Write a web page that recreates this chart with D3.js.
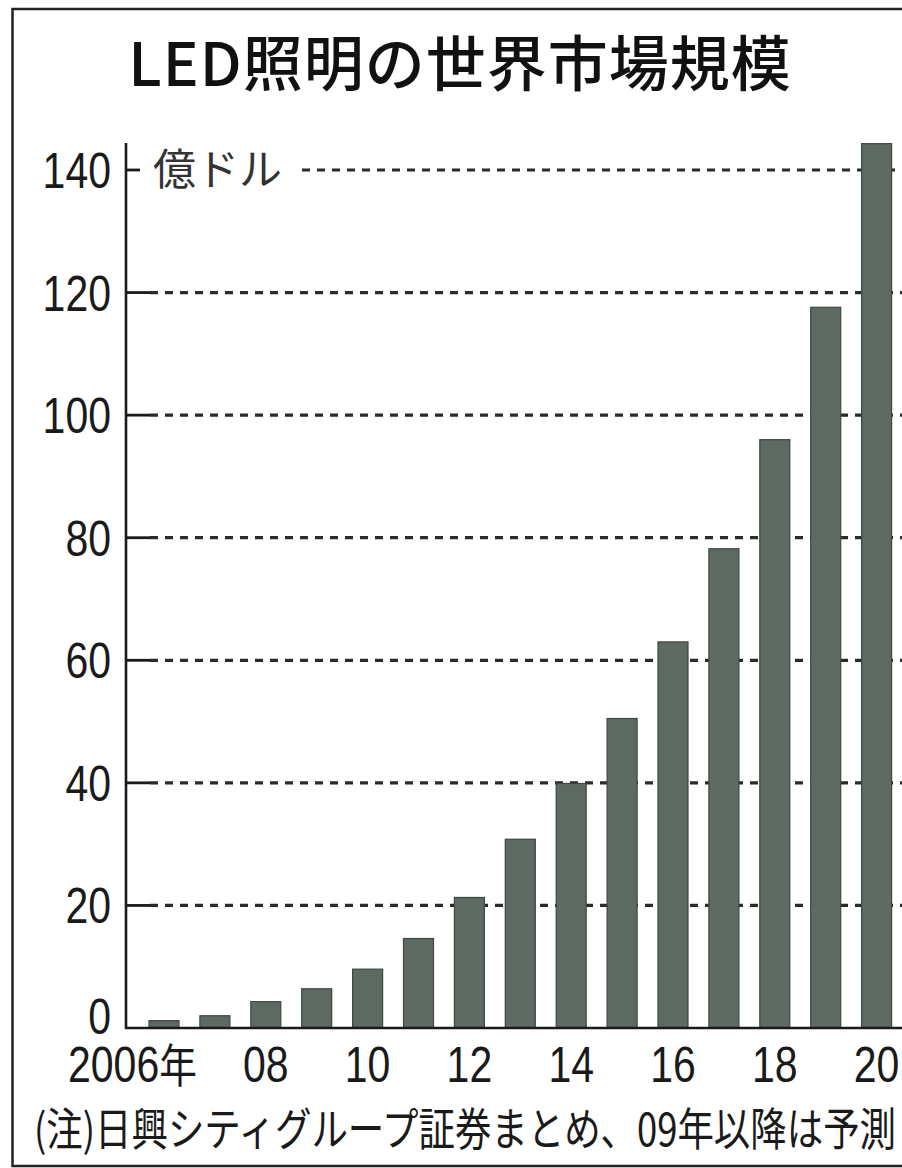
<!DOCTYPE html>
<html>
<head>
<meta charset="utf-8">
<script src="https://cdn.jsdelivr.net/npm/d3@7"></script>
<style>
  html, body { margin: 0; padding: 0; background: #fff; }
  svg { display: block; }
</style>
</head>
<body>
<script>
/* Data */

var years  = [2006, 2007, 2008, 2009, 2010, 2011, 2012, 2013, 2014, 2015, 2016, 2017, 2018, 2019, 2020];
var values = [1.2, 2.0, 4.3, 6.4, 9.6, 14.6, 21.3, 30.8, 39.9, 50.5, 63.0, 78.2, 96.0, 117.6, 144.3];
var yTicks = [0, 20, 40, 60, 80, 100, 120, 140];
var xLabelYears = [2006, 2008, 2010, 2012, 2014, 2016, 2018, 2020];

var TITLE = "LED照明の世界市場規模";
var UNIT  = "億ドル";
var NOTE  = "(注)日興シティグループ証券まとめ、09年以降は予測";

/* Measures */

var W = 902,
    H = 1168;

var AXIS_X   = 126,
    ZERO_Y   = 1028,
    TOP_Y    = 170,
    BAR_W    = 30,
    FIRST_BAR_X = 149,
    BAR_STEP = 50.9,
    NARROW   = 0.82;   // horizontal squeeze of the number font

var NUM_FONT = "'Liberation Sans', Arial, sans-serif",
    CJK_FONT = "'Noto Sans CJK JP', 'Noto Sans', sans-serif";

var BAR_COLOR = "#5c6a62",
    INK       = "#1a1a1a";

var svg = d3.select("body").append("svg")
    .attr("width", W)
    .attr("height", H);

var y = d3.scaleLinear()
    .domain([0, 140])
    .range([ZERO_Y, TOP_Y]);

var x0 = FIRST_BAR_X - (BAR_STEP - BAR_W) / 2;
var x = d3.scaleBand()
    .domain(years)
    .range([x0, x0 + BAR_STEP * years.length])
    .paddingInner((BAR_STEP - BAR_W) / BAR_STEP)
    .paddingOuter((BAR_STEP - BAR_W) / BAR_STEP / 2);

// frame
svg.append("rect")
    .attr("x", 12.5)
    .attr("y", 9)
    .attr("width", W + 20)
    .attr("height", H - 11)
    .attr("fill", "none")
    .attr("stroke", "#222")
    .attr("stroke-width", 2.5);

// title
svg.append("text")
    .attr("x", 460)
    .attr("y", 86)
    .attr("text-anchor", "middle")
    .attr("font-family", CJK_FONT)
    .attr("font-size", 60)
    .attr("font-weight", 500)
    .attr("letter-spacing", 1)
    .attr("fill", "#111")
    .text(TITLE);

// gridlines (dashed)
var grid = svg.append("g");
grid.selectAll("line")
    .data(yTicks.filter(function(d) { return d > 0; }))
    .enter().append("line")
    .attr("x1", function(d) { return d === 140 ? 302 : AXIS_X + 24; })
    .attr("x2", W)
    .attr("y1", function(d) { return y(d); })
    .attr("y2", function(d) { return y(d); })
    .attr("stroke", "#2a2a2a")
    .attr("stroke-width", 3.2)
    .attr("stroke-dasharray", "8,7");

// solid tick stubs
grid.selectAll("line.stub")
    .data(yTicks.filter(function(d) { return d > 0; }))
    .enter().append("line")
    .attr("class", "stub")
    .attr("x1", AXIS_X)
    .attr("x2", function(d) { return d === 140 ? AXIS_X + 14 : AXIS_X + 24; })
    .attr("y1", function(d) { return y(d); })
    .attr("y2", function(d) { return y(d); })
    .attr("stroke", INK)
    .attr("stroke-width", 2.8);

// bars
svg.append("g").selectAll("rect")
    .data(years)
    .enter().append("rect")
    .attr("x", function(d) { return x(d); })
    .attr("width", x.bandwidth())
    .attr("y", function(d, i) { return y(values[i]); })
    .attr("height", function(d, i) { return ZERO_Y - y(values[i]); })
    .attr("fill", BAR_COLOR)
    .attr("stroke", "#3e4843")
    .attr("stroke-width", 1.2);

// axes lines
svg.append("line")
    .attr("x1", AXIS_X).attr("x2", AXIS_X)
    .attr("y1", 143).attr("y2", ZERO_Y + 1)
    .attr("stroke", INK)
    .attr("stroke-width", 2.6);

svg.append("line")
    .attr("x1", AXIS_X - 1).attr("x2", W)
    .attr("y1", ZERO_Y).attr("y2", ZERO_Y)
    .attr("stroke", INK)
    .attr("stroke-width", 2.6);

// y tick labels
svg.append("g").selectAll("text")
    .data(yTicks)
    .enter().append("text")
    .attr("transform", function(d) {
        var ty = d === 0 ? ZERO_Y + 6 : y(d) + 18;
        return "translate(111," + ty + ") scale(" + NARROW + ",1)";
    })
    .attr("text-anchor", "end")
    .attr("font-family", NUM_FONT)
    .attr("font-size", 50)
    .attr("fill", INK)
    .text(function(d) { return d; });

// unit label
svg.append("text")
    .attr("x", 153)
    .attr("y", 185)
    .attr("font-family", CJK_FONT)
    .attr("font-size", 43)
    .attr("fill", "#333")
    .text(UNIT);

// x labels
var xl = svg.append("g");
xl.selectAll("text")
    .data(xLabelYears)
    .enter().append("text")
    .attr("transform", function(d) {
        var tx = d === 2006 ? 68 : x(d) + x.bandwidth() / 2;
        return "translate(" + tx + ",1082) scale(" + NARROW + ",1)";
    })
    .attr("text-anchor", function(d) { return d === 2006 ? "start" : "middle"; })
    .attr("font-family", NUM_FONT)
    .attr("font-size", 50)
    .attr("fill", INK)
    .each(function(d) {
        var t = d3.select(this);
        if (d === 2006) {
            t.append("tspan").text("2006");
            t.append("tspan")
                .attr("font-family", CJK_FONT)
                .attr("font-size", 46)
                .text("年");
        } else {
            t.text(String(d % 100).padStart(2, "0"));
        }
    });

// note
svg.append("text")
    .attr("x", 34)
    .attr("y", 1146)
    .attr("font-family", CJK_FONT)
    .attr("font-size", 45)
    .attr("fill", INK)
    .attr("textLength", 862)
    .attr("lengthAdjust", "spacingAndGlyphs")
    .text(NOTE);
</script>
</body>
</html>
